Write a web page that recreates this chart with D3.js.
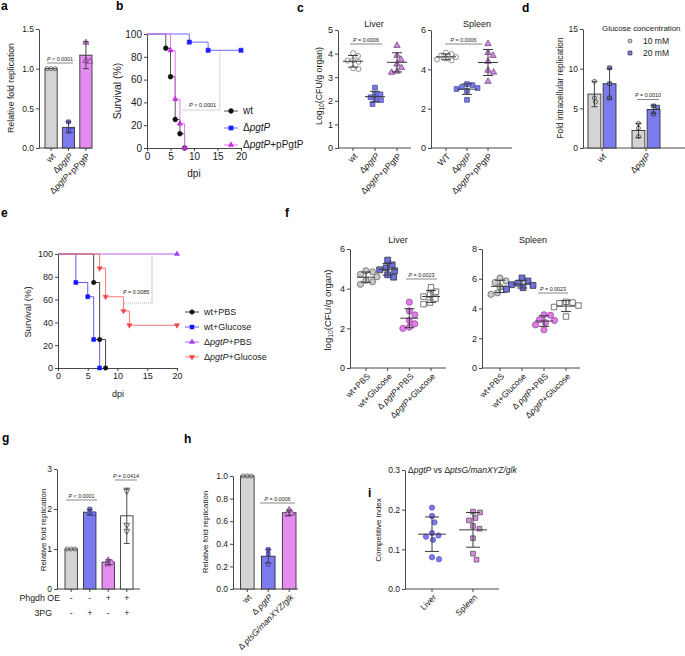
<!DOCTYPE html>
<html><head><meta charset="utf-8">
<script src="https://cdn.jsdelivr.net/npm/d3@7"></script>
<style>body{margin:0;background:#fff} svg{display:block} text{font-family:"Liberation Sans",Arial,Helvetica,sans-serif}</style>
</head><body><svg id="c" width="685" height="656"></svg>
<script>
// ---------------- DATA ----------------
// a
const aCats = ["wt","Δ<i>pgtP</i>","Δ<i>pgtP</i>+pPgtP"];
const aMeans = [1.0, 0.26, 1.17];
const aSD = [0, 0.07, 0.17];
const aPoints = [[1,1,1],[0.33,0.23,0.22],[1.33,1.10,1.09]];
const aTicks = [0, 0.5, 1.0, 1.5];
// b (survival)
const bNames = ["wt","Δ<i>pgtP</i>","Δ<i>pgtP</i>+pPgtP"];
const bWtDays = [0,4,5,6,7,8],  bWtSurv = [100,87.5,62.5,25,12.5,0];
const bKoDays = [0,9,13,20],    bKoSurv = [100,92.9,85.7,85.7];
const bCoDays = [0,5,6,7,8],    bCoSurv = [100,85.7,42.9,21.4,0];
const survXTicks = [0,5,10,15,20];
const survYTicks = [0,20,40,60,80,100];
// c
const cLiverCats = ["wt","Δ<i>pgtP</i>","Δ<i>pgtP</i>+pPgtP"];
const cSpleenCats = ["WT","Δ<i>pgtP</i>","Δ<i>pgtP</i>+pPgtP"];
const cLiver = [[4.02,3.9,3.72,3.7,3.65,3.38,3.35],[2.56,2.3,2.27,2.15,2.06,2.03,1.86],[4.34,3.92,3.75,3.55,3.4,3.25,3.2]];
const cSpleen = [[4.85,4.78,4.7,4.62,4.55,4.5,4.45],[3.25,3.2,3.1,3.05,3.0,2.9,2.45],[5.3,4.85,4.7,4.4,3.95,3.85,3.38]];
const cLiverTicks = [0,1,2,3,4,5];
const cSpleenTicks = [0,2,4,6];
// d
const dGroups = ["wt","Δ<i>pgtP</i>"];
const dSeries = ["10 mM","20 mM"];
const d10Means = [6.8, 2.2], d10SD = [1.6, 0.9], d10Points = [[8.4,6.3,5.8],[3.1,2.5,1.45]];
const d20Means = [8.1, 4.85], d20SD = [1.9, 0.5], d20Points = [[10.1,8.1,6.3],[5.3,5.15,4.3]];
const dTicks = [0,5,10,15];
// e (survival)
const eNames = ["wt+PBS","wt+Glucose","Δ<i>pgtP</i>+PBS","Δ<i>pgtP</i>+Glucose"];
const eWtPbsDays = [0,6,7,8],            eWtPbsSurv = [100,75,25,0];
const eWtGluDays = [0,3,5,6,7],          eWtGluSurv = [100,75,62.5,25,0];
const eKoPbsDays = [0,20],               eKoPbsSurv = [100,100];
const eKoGluDays = [0,7,8,11,12,20],     eKoGluSurv = [100,87.5,62.5,50,37.5,37.5];
// f
const fCats = ["wt+PBS","wt+Glucose","Δ <i>pgtP</i>+PBS","Δ<i>pgtP</i>+Glucose"];
const fLiver = [[4.9,4.85,4.72,4.6,4.42,4.35,4.22],[5.44,5.2,5.05,4.95,4.9,4.7,4.58],[3.32,2.88,2.68,2.4,2.23,2.06,2.0],[4.07,3.85,3.7,3.6,3.5,3.3,3.22]];
const fSpleen = [[6.05,5.85,5.75,5.45,5.3,5.05,4.95],[6.05,5.85,5.7,5.6,5.55,5.4,5.3],[3.58,3.55,3.25,3.2,3.05,2.9,2.57],[4.45,4.4,4.35,4.2,4.1,3.46]];
const fLiverTicks = [0,2,4,6];
const fSpleenTicks = [0,2,4,6,8];
// g
const gMeans = [1.0, 1.92, 0.67, 1.83];
const gSD = [0, 0.07, 0.06, 0.69];
const gPoints = [[1,1,1],[2.0,1.9,1.88],[0.72,0.66,0.62],[2.45,1.6,1.45]];
const gPhgdh = ["-","-","+","+"];
const g3PG = ["-","+","-","+"];
const gTicks = [0,1,2,3];
// h
const hCats = ["wt","Δ <i>pgtP</i>","Δ <i>ptsG/manXYZ/glk</i>"];
const hMeans = [1.0, 0.29, 0.675];
const hSD = [0, 0.06, 0.025];
const hPoints = [[1,1,1],[0.35,0.31,0.22],[0.70,0.67,0.66]];
const hTicks = [0,0.2,0.4,0.6,0.8,1.0];
// i
const iCats = ["Liver","Spleen"];
const iLiver = [0.205,0.184,0.168,0.141,0.135,0.132,0.124,0.080,0.075];
const iSpleen = [0.195,0.193,0.179,0.173,0.159,0.152,0.128,0.089,0.074];
const iTicks = [0,0.1,0.2,0.3];

// ---------------- HELPERS ----------------
const svg = d3.select("#c");
svg.append("rect").attr("width",685).attr("height",656).attr("fill","#fff");
const AX = "#333", TXT = "#1a1a1a";
const GRAY = "#d4d4d4", BLUE = "#7b7bef", VIOLET = "#e58cef";

function rich(t, str) {
  let shift = 0;
  str.split(/(<i>.*?<\/i>|<sub>.*?<\/sub>)/).filter(s => s).forEach(p => {
    let ts;
    if (p.startsWith("<i>")) { ts = t.append("tspan").attr("font-style","italic").text(p.slice(3,-4)); if (shift) { ts.attr("dy",-shift); shift = 0; } }
    else if (p.startsWith("<sub>")) { ts = t.append("tspan").attr("font-size","0.72em").attr("dy",2.2).text(p.slice(5,-6)); shift = 2.2; }
    else { ts = t.append("tspan").text(p); if (shift) { ts.attr("dy",-shift); shift = 0; } }
  });
  return t;
}
function label(g, x, y, str, fs, anchor="start") {
  const t = g.append("text").attr("x",x).attr("y",y).attr("font-size",fs).attr("fill",TXT).attr("text-anchor",anchor);
  return rich(t, str);
}
function panelLabel(x, y, s) {
  svg.append("text").attr("x",x).attr("y",y).attr("font-size",12).attr("font-weight","bold").attr("fill","#000").text(s);
}
function styleAxis(ax, fs) {
  ax.selectAll("path,line").attr("stroke",AX).attr("stroke-width",0.9);
  ax.selectAll("text").attr("font-size",fs).attr("fill",TXT).attr("font-family",'"Liberation Sans",Arial,sans-serif');
}
function yAxis(g, y, x, ticks, fmt, fs=8.5) {
  const ax = g.append("g").attr("transform",`translate(${x},0)`)
    .call(d3.axisLeft(y).tickValues(ticks).tickFormat(fmt).tickSize(3).tickPadding(2).tickSizeOuter(0));
  styleAxis(ax, fs);
}
function yTitle(g, x, cy, str, fs=8.5) {
  const t = g.append("text").attr("transform",`translate(${x},${cy}) rotate(-90)`).attr("text-anchor","middle").attr("font-size",fs).attr("fill",TXT);
  rich(t, str);
}
function xCatAxis(g, x0, x1, yb, centers, labels, fs=8.8) {
  g.append("line").attr("x1",x0).attr("x2",x1).attr("y1",yb).attr("y2",yb).attr("stroke",AX).attr("stroke-width",0.9);
  centers.forEach((cx,i) => {
    g.append("line").attr("x1",cx).attr("x2",cx).attr("y1",yb).attr("y2",yb+3).attr("stroke",AX).attr("stroke-width",0.9);
    if (labels) {
      const t = g.append("text").attr("transform",`translate(${cx+3},${yb+7}) rotate(-45)`).attr("text-anchor","end").attr("font-size",fs).attr("fill",TXT).attr("dy","0.3em");
      rich(t, labels[i]);
    }
  });
}
const SYM = {circle: d3.symbolCircle, square: d3.symbolSquare, triangle: d3.symbolTriangle, tdown: d3.symbolTriangle};
function marker(g, x, y, shape, size, fill, stroke, sw=0.8) {
  g.append("path").attr("d", d3.symbol().type(SYM[shape]).size(size)())
    .attr("transform", `translate(${x},${y})` + (shape === "tdown" ? " rotate(180)" : ""))
    .attr("fill", fill).attr("stroke", stroke).attr("stroke-width", sw);
}
function swarm(vals, y, r, gap=0.4) {
  const placed = [], out = new Array(vals.length), d = 2*r + gap;
  vals.map((v,i) => ({v,i})).sort((a,b) => d3.descending(a.v,b.v)).forEach(o => {
    const py = y(o.v);
    let off = 0;
    for (let k = 0; k < 400; k++) {
      const cand = k === 0 ? 0 : (k % 2 ? 1 : -1) * Math.ceil(k/2) * 0.5;
      if (placed.every(p => (p.x-cand)**2 + (p.y-py)**2 >= d*d)) { off = cand; break; }
    }
    placed.push({x:off, y:py});
    out[o.i] = {dx:off, y:py};
  });
  return out;
}
function errbar(g, cx, yLo, yHi, cw, color="#333", sw=0.9) {
  g.append("line").attr("x1",cx).attr("x2",cx).attr("y1",yLo).attr("y2",yHi).attr("stroke",color).attr("stroke-width",sw);
  g.append("line").attr("x1",cx-cw).attr("x2",cx+cw).attr("y1",yHi).attr("y2",yHi).attr("stroke",color).attr("stroke-width",sw);
  g.append("line").attr("x1",cx-cw).attr("x2",cx+cw).attr("y1",yLo).attr("y2",yLo).attr("stroke",color).attr("stroke-width",sw);
}
function bars(g, xs, bw, y, means, sds, points, st) {
  means.forEach((m,i) => {
    const s = st[i], cx = xs[i];
    g.append("rect").attr("x",cx-bw/2).attr("y",y(m)).attr("width",bw).attr("height",y(0)-y(m))
      .attr("fill",s.bar).attr("stroke","#333").attr("stroke-width",0.9);
    swarm(points[i], y, s.r || 1.8).forEach(p => marker(g, cx+p.dx, p.y, s.shape, s.size, s.fill, s.stroke, 0.8));
    if (sds[i] > 0) errbar(g, cx, y(m - sds[i]), y(m + sds[i]), 3);
  });
}
function scatter(g, xs, y, groups, st, half=10, cap=5, r=2.5) {
  groups.forEach((vals,i) => {
    const s = st[i], cx = xs[i];
    swarm(vals, y, s.r || r).forEach(p => marker(g, cx+p.dx, p.y, s.shape, s.size, s.fill, s.stroke, s.sw || 0.8));
    const m = d3.mean(vals), sd = d3.deviation(vals);
    g.append("line").attr("x1",cx-half).attr("x2",cx+half).attr("y1",y(m)).attr("y2",y(m)).attr("stroke","#3a3a3a").attr("stroke-width",1);
    errbar(g, cx, y(m-sd), y(m+sd), cap, "#3a3a3a", 1);
  });
}
function pval(g, x1, x2, yl, str, fs=5.4) {
  g.append("line").attr("x1",x1).attr("x2",x2).attr("y1",yl).attr("y2",yl).attr("stroke","#555").attr("stroke-width",0.7);
  label(g, (x1+x2)/2, yl-2.5, str, fs, "middle");
}
const stepLine = (x,y) => d3.line().x(d => x(d[0])).y(d => y(d[1])).curve(d3.curveStepAfter);
function survPanel(g, x, y, series, fs) {
  const ax1 = g.append("g").attr("transform",`translate(0,${y.range()[0]})`).call(d3.axisBottom(x).tickValues(survXTicks).tickSize(3).tickPadding(2).tickSizeOuter(0));
  styleAxis(ax1, fs);
  yAxis(g, y, x.range()[0], survYTicks, d3.format("d"), fs);
  series.forEach(s => {
    const pts = s.days.map((d,i) => [d, s.surv[i]]);
    g.append("path").datum(pts).attr("d", stepLine(x,y)).attr("fill","none").attr("stroke",s.line).attr("stroke-width",1);
  });
  series.forEach(s => {
    s.days.forEach((d,i) => { if (i > 0) marker(g, x(d), y(s.surv[i]), s.shape, s.size, s.color, s.color, 0.5); });
  });
}
function legend(g, lx, ly, dy, series, names, fs) {
  series.forEach((s,i) => {
    const yy = ly + i*dy;
    g.append("line").attr("x1",lx-7).attr("x2",lx+7).attr("y1",yy).attr("y2",yy).attr("stroke",s.line).attr("stroke-width",1);
    marker(g, lx, yy, s.shape, s.size, s.color, s.color, 0.5);
    label(g, lx+12, yy+3.3, names[i], fs);
  });
}

// ---------------- PANEL a ----------------
{
  const g = svg.append("g");
  panelLabel(1, 10, "a");
  const y = d3.scaleLinear().domain([0,1.5]).range([148,29]);
  const x = d3.scaleBand().domain(d3.range(aCats.length)).range([45,92]).paddingInner(0.3);
  const xs = aCats.map((c,i) => x(i) + x.bandwidth()/2);
  yAxis(g, y, 39, aTicks, d3.format(".1f"));
  xCatAxis(g, 39, 92, 148, xs, aCats);
  bars(g, xs, x.bandwidth(), y, aMeans, aSD, aPoints, [
    {bar:GRAY, shape:"circle", size:13, fill:"none", stroke:"#555"},
    {bar:BLUE, shape:"square", size:14, fill:BLUE, stroke:"#3f3fa8"},
    {bar:VIOLET, shape:"triangle", size:15, fill:VIOLET, stroke:"#7a3f85"}]);
  yTitle(g, 14, 88, "Relative fold replication", 8.7);
  pval(g, 47, 73, 63, "<i>P</i> < 0.0001");
}

// ---------------- PANEL b ----------------
{
  const g = svg.append("g");
  panelLabel(116, 10, "b");
  const x = d3.scaleLinear().domain([0,20]).range([147,241]);
  const y = d3.scaleLinear().domain([0,100]).range([148,34]);
  const ser = [
    {days:bWtDays, surv:bWtSurv, color:"#111", line:"#555", shape:"circle", size:18},
    {days:bKoDays, surv:bKoSurv, color:"#1e1eff", line:"#6a6aff", shape:"square", size:18},
    {days:bCoDays, surv:bCoSurv, color:"#c72ee0", line:"#e07af0", shape:"triangle", size:13}];
  g.append("path").attr("d", `M${x(15.5)},${y(85.7)}V${y(33.3)}H${x(7.4)}`).attr("fill","none").attr("stroke","#888").attr("stroke-width",0.7).attr("stroke-dasharray","1,1");
  survPanel(g, x, y, ser, 10);
  label(g, 189, 107, "<i>P</i> < 0.0001", 5.6);
  yTitle(g, 121, 91, "Survival (%)", 10.5);
  label(g, 194, 177, "dpi", 10, "middle");
  legend(g, 231, 111, 17, ser, bNames, 10);
}

// ---------------- PANEL c ----------------
{
  const g = svg.append("g");
  panelLabel(297, 12, "c");
  const st = [
    {shape:"circle", size:20, fill:"#fff", stroke:"#777", r:2.5},
    {shape:"square", size:22, fill:BLUE, stroke:"#4a4aa0", r:2.5},
    {shape:"triangle", size:18, fill:"#c98bdc", stroke:"#7a4a8a", r:2.5}];
  const y1 = d3.scaleLinear().domain([0,5]).range([148,30]);
  const xs1 = d3.scalePoint().domain(d3.range(3)).range([353,397]);
  const c1 = d3.range(3).map(xs1);
  yAxis(g, y1, 338, cLiverTicks, d3.format("d"), 9);
  xCatAxis(g, 338, 411, 148, c1, cLiverCats);
  scatter(g, c1, y1, cLiver, st, 10, 5);
  label(g, 374, 27, "Liver", 9, "middle");
  pval(g, 350, 382, 44, "<i>P</i> = 0.0006");
  yTitle(g, 322, 86, "Log<sub>10</sub>(CFU/g organ)", 8.8);
  const y2 = d3.scaleLinear().domain([0,6]).range([148,30]);
  const xs2 = d3.scalePoint().domain(d3.range(3)).range([446,488]);
  const c2 = d3.range(3).map(xs2);
  yAxis(g, y2, 431, cSpleenTicks, d3.format("d"), 9);
  xCatAxis(g, 431, 512, 148, c2, cSpleenCats);
  scatter(g, c2, y2, cSpleen, st, 10, 5);
  label(g, 477, 27, "Spleen", 9, "middle");
  pval(g, 445, 482, 44, "<i>P</i> = 0.0006");
}

// ---------------- PANEL d ----------------
{
  const g = svg.append("g");
  panelLabel(522, 12, "d");
  const y = d3.scaleLinear().domain([0,15]).range([148,29]);
  const xg = d3.scaleBand().domain(d3.range(dGroups.length)).range([588,660]).paddingInner(0.364);
  const xsub = d3.scaleBand().domain([0,1]).range([0, xg.bandwidth()]).paddingInner(0.15);
  const bw = xsub.bandwidth();
  const gc = dGroups.map((d,i) => xg(i) + xg.bandwidth()/2);
  yAxis(g, y, 583, dTicks, d3.format("d"));
  xCatAxis(g, 583, 685, 148, gc, dGroups);
  const xs10 = dGroups.map((d,i) => xg(i) + xsub(0) + bw/2);
  const xs20 = dGroups.map((d,i) => xg(i) + xsub(1) + bw/2);
  bars(g, xs10, bw, y, d10Means, d10SD, d10Points, [0,1].map(() => ({bar:GRAY, shape:"circle", size:13, fill:"none", stroke:"#444"})));
  bars(g, xs20, bw, y, d20Means, d20SD, d20Points, [0,1].map(() => ({bar:BLUE, shape:"square", size:14, fill:BLUE, stroke:"#333"})));
  yTitle(g, 563, 88, "Fold intracellular replication", 8.3);
  label(g, 602, 31, "Glucose concentration", 7.9);
  marker(g, 630, 41, "circle", 12, "#ccc", "#555", 0.8);
  label(g, 643, 44, dSeries[0], 8.5);
  marker(g, 630, 53, "square", 14, BLUE, "#333", 0.8);
  label(g, 643, 56, dSeries[1], 8.5);
  label(g, 648, 97, "<i>P</i> = 0.0010", 5.4, "middle");
  g.append("line").attr("x1",637).attr("x2",659).attr("y1",99.5).attr("y2",99.5).attr("stroke","#555").attr("stroke-width",0.7);
}

// ---------------- PANEL e ----------------
{
  const g = svg.append("g");
  panelLabel(1, 217, "e");
  const x = d3.scaleLinear().domain([0,20]).range([58,177]);
  const y = d3.scaleLinear().domain([0,100]).range([368,254]);
  const ser = [
    {days:eWtPbsDays, surv:eWtPbsSurv, color:"#111", line:"#444", shape:"circle", size:16},
    {days:eWtGluDays, surv:eWtGluSurv, color:"#1414ff", line:"#5a5aff", shape:"square", size:16},
    {days:eKoPbsDays, surv:eKoPbsSurv, color:"#a53ff0", line:"#b862f2", shape:"triangle", size:12},
    {days:eKoGluDays, surv:eKoGluSurv, color:"#f04848", line:"#f47878", shape:"tdown", size:12}];
  g.append("path").attr("d", `M${x(15.8)},${y(100)}V${y(57)}H${x(11)}`).attr("fill","none").attr("stroke","#888").attr("stroke-width",0.7).attr("stroke-dasharray","1,1");
  survPanel(g, x, y, ser, 9);
  label(g, 123, 294, "<i>P</i> = 0.0085", 5.4);
  yTitle(g, 31, 312, "Survival (%)", 9.5);
  label(g, 118, 397, "dpi", 9, "middle");
  legend(g, 192, 312, 15, ser, eNames, 9);
}

// ---------------- PANEL f ----------------
{
  const g = svg.append("g");
  panelLabel(285, 217, "f");
  const st = [
    {shape:"circle", size:30, fill:"#c9c9c9", stroke:"#666", r:3},
    {shape:"square", size:34, fill:"#6e6ee6", stroke:"#333", r:3},
    {shape:"circle", size:30, fill:"#e07ee8", stroke:"#9a4aa6", r:3},
    {shape:"square", size:30, fill:"#fff", stroke:"#555", r:3}];
  const y1 = d3.scaleLinear().domain([0,6]).range([368,249]);
  const xs1 = d3.scalePoint().domain(d3.range(4)).range([366,431]);
  const c1 = d3.range(4).map(xs1);
  yAxis(g, y1, 350, fLiverTicks, d3.format("d"), 9);
  xCatAxis(g, 350, 446, 368, c1, fCats, 8.5);
  scatter(g, c1, y1, fLiver, st, 9, 5, 3);
  label(g, 398, 243, "Liver", 9, "middle");
  pval(g, 406, 437, 279, "<i>P</i> = 0.0023");
  yTitle(g, 331, 310, "log<sub>10</sub>(CFU/g organ)", 9.5);
  const y2 = d3.scaleLinear().domain([0,8]).range([368,249]);
  const xs2 = d3.scalePoint().domain(d3.range(4)).range([500,566]);
  const c2 = d3.range(4).map(xs2);
  yAxis(g, y2, 482, fSpleenTicks, d3.format("d"), 9);
  xCatAxis(g, 482, 580, 368, c2, fCats, 8.5);
  scatter(g, c2, y2, fSpleen, st, 9, 5, 3);
  label(g, 533, 243, "Spleen", 9, "middle");
  pval(g, 538, 568, 293, "<i>P</i> = 0.0023");
}

// ---------------- PANEL g ----------------
{
  const g = svg.append("g");
  panelLabel(2, 442, "g");
  const y = d3.scaleLinear().domain([0,3]).range([589,469]);
  const x = d3.scaleBand().domain(d3.range(4)).range([65,133]).paddingInner(0.33);
  const xs = d3.range(4).map(i => x(i) + x.bandwidth()/2);
  yAxis(g, y, 57, gTicks, d3.format("d"));
  xCatAxis(g, 57, 140, 589, xs, null);
  bars(g, xs, x.bandwidth(), y, gMeans, gSD, gPoints, [
    {bar:GRAY, shape:"circle", size:13, fill:"none", stroke:"#555"},
    {bar:BLUE, shape:"square", size:14, fill:BLUE, stroke:"#3f3fa8"},
    {bar:VIOLET, shape:"triangle", size:15, fill:VIOLET, stroke:"#7a3f85"},
    {bar:"#fff", shape:"tdown", size:15, fill:"#fff", stroke:"#444"}]);
  yTitle(g, 46, 530, "Relative fold replication", 8);
  label(g, 60, 601, "Phgdh OE", 8.8, "end");
  label(g, 52, 616, "3PG", 8.8, "end");
  xs.forEach((cx,i) => { label(g, cx, 601, gPhgdh[i], 8.8, "middle"); label(g, cx, 616, g3PG[i], 8.8, "middle"); });
  pval(g, 66, 97, 500, "<i>P</i> < 0.0001");
  pval(g, 115, 137, 480, "<i>P</i> = 0.0414");
}

// ---------------- PANEL h ----------------
{
  const g = svg.append("g");
  panelLabel(184, 443, "h");
  const y = d3.scaleLinear().domain([0,1]).range([589,476]);
  const x = d3.scaleBand().domain(d3.range(3)).range([240.5,296]).paddingInner(0.35);
  const xs = d3.range(3).map(i => x(i) + x.bandwidth()/2);
  yAxis(g, y, 233, hTicks, d3.format(".1f"));
  xCatAxis(g, 233, 298, 589, xs, hCats, 8.5);
  bars(g, xs, x.bandwidth(), y, hMeans, hSD, hPoints, [
    {bar:GRAY, shape:"circle", size:13, fill:"none", stroke:"#555"},
    {bar:BLUE, shape:"square", size:14, fill:BLUE, stroke:"#3f3fa8"},
    {bar:VIOLET, shape:"triangle", size:15, fill:VIOLET, stroke:"#7a3f85"}]);
  yTitle(g, 208, 532, "Relative fold replication", 8);
  pval(g, 260, 295, 503, "<i>P</i> = 0.0006");
}

// ---------------- PANEL i ----------------
{
  const g = svg.append("g");
  panelLabel(368, 497, "i");
  const y = d3.scaleLinear().domain([0,0.3]).range([589,470]);
  const x = d3.scalePoint().domain(d3.range(2)).range([432,473]);
  const xs = d3.range(2).map(x);
  yAxis(g, y, 405, iTicks, d3.format(".1f"));
  xCatAxis(g, 405, 499, 589, xs, iCats, 8.5);
  scatter(g, xs, y, [iLiver, iSpleen], [
    {shape:"circle", size:22, fill:"#7b7bef", stroke:"#5a5ac0", r:3.2},
    {shape:"square", size:22, fill:"#e08ae8", stroke:"#555", r:3.2}], 14, 7);
  yTitle(g, 381, 530, "Competitive index", 8);
  label(g, 408, 473, "Δ<i>pgtP</i> vs Δ<i>ptsG/manXYZ/glk</i>", 8.5);
}
</script></body></html>
